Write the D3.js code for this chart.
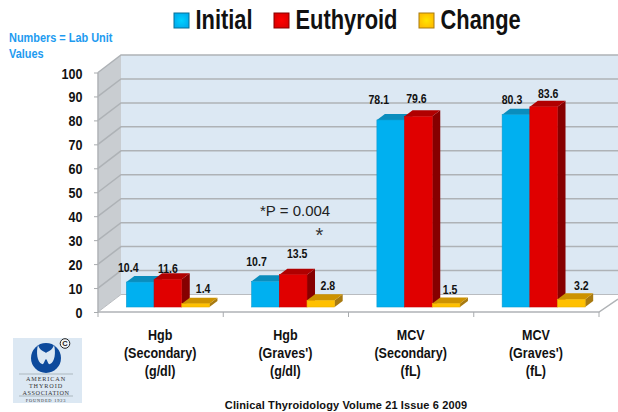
<!DOCTYPE html>
<html>
<head>
<meta charset="utf-8">
<script src="https://cdn.jsdelivr.net/npm/d3@7"></script>
<style>
    html, body { margin: 0; padding: 0; background: #fff; }
    svg { display: block; }
    text { font-family: "Liberation Sans", Arial, sans-serif; }
    .narrow { font-weight: bold; fill: #111; }
</style>
</head>
<body>
<svg id="vis" width="618" height="412"></svg>
<script>
'use strict';

var categories = [['Hgb', '(Secondary)', '(g/dl)'], ['Hgb', "(Graves')", '(g/dl)'], ['MCV', '(Secondary)', '(fL)'], ['MCV', "(Graves')", '(fL)']];
var seriesNames = ['Initial', 'Euthyroid', 'Change'];
var initialValues = [10.4, 10.7, 78.1, 80.3];
var euthyroidValues = [11.6, 13.5, 79.6, 83.6];
var changeValues = [1.4, 2.8, 1.5, 3.2];
var yTicks = [0, 10, 20, 30, 40, 50, 60, 70, 80, 90, 100];

(function () {
    var svg = d3.select('#vis');
    var allValues = [initialValues, euthyroidValues, changeValues];

    // colours per series: front, top, side
    var colors = [
        { front: '#00b0f0', top: '#0a8dbd', side: '#066f96', edge: '#0a9ad0' },
        { front: '#e00000', top: '#b00000', side: '#860000', edge: '#c80000' },
        { front: '#ffc000', top: '#cc9200', side: '#a87a10', edge: '#e8ae00' }
    ];

    // the original uses a condensed bold face; squeeze Liberation Sans to get it
    var squeeze = 0.81;
    function narrowText(parent, x, y, size, str) {
        return parent.append('text')
            .attr('class', 'narrow')
            .attr('transform', 'translate(' + x + ',' + y + ') scale(' + squeeze + ',1)')
            .style('font-size', size + 'px')
            .text(str);
    }

    // front plane of the box
    var left = 98, right = 599, bottom = 312, top = 72.5;
    var depthX = 23, depthY = 17.5;
    // the bars stand a little way into the floor
    var barOffX = 7.3, barOffY = 5;
    var barDepthX = 8, barDepthY = 6;

    var y = d3.scaleLinear().domain([0, 100]).range([bottom, top]);
    var xLabels = d3.scaleBand().domain(d3.range(categories.length)).range([left, right]);
    var x0 = d3.scaleBand().domain(d3.range(categories.length))
        .range([left + barOffX, right + barOffX]).paddingInner(0.337).paddingOuter(0.1685);
    var x1 = d3.scaleBand().domain(d3.range(seriesNames.length)).range([0, x0.bandwidth()]);

    // walls
    svg.append('path')
        .attr('d', 'M' + left + ',' + y(100) + 'L' + (left + depthX) + ',' + (y(100) - depthY) +
            'L' + (left + depthX) + ',' + (y(0) - depthY) + 'L' + left + ',' + y(0) + 'Z')
        .attr('fill', '#c9cdd1');
    svg.append('rect')
        .attr('x', left + depthX).attr('y', y(100) - depthY)
        .attr('width', 618 - left - depthX).attr('height', y(0) - y(100))
        .attr('fill', '#dce8f3');
    svg.append('path')
        .attr('d', 'M' + left + ',' + y(0) + 'L' + (left + depthX) + ',' + (y(0) - depthY) +
            'L618,' + (y(0) - depthY) + 'L618,' + (y(0) - depthY + 1) + 'L' + right + ',' + y(0) + 'Z')
        .attr('fill', '#fff');

    // gridlines on the back wall and the side wall
    svg.selectAll('.grid').data(yTicks).enter().append('path')
        .attr('class', 'grid')
        .attr('fill', 'none')
        .attr('stroke', function (d) { return d === 0 ? '#b9bcc0' : '#aeb2b6'; })
        .attr('stroke-width', function (d) { return d === 0 ? 1 : 1.5; })
        .attr('d', function (d) {
            return 'M' + left + ',' + y(d) + 'L' + (left + depthX) + ',' + (y(d) - depthY) + 'L618,' + (y(d) - depthY);
        });

    // floor front edge and right edge
    svg.append('path')
        .attr('d', 'M' + left + ',' + y(100) + 'L' + left + ',' + y(0) + 'L' + right + ',' + y(0) + 'L618,' + (y(0) - 13))
        .attr('fill', 'none').attr('stroke', '#b0b3b6').attr('stroke-width', 1.5);

    // y axis
    var yAxis = svg.append('g')
        .attr('transform', 'translate(' + left + ',0)')
        .call(d3.axisLeft(y).tickValues(yTicks).tickSize(4).tickPadding(11));
    yAxis.select('.domain').remove();
    yAxis.selectAll('line').attr('stroke', '#a8abae');
    yAxis.selectAll('text').remove();
    yAxis.selectAll('.tick').each(function (d) {
        narrowText(d3.select(this), -15.5, 5.5, 15.5, d).attr('text-anchor', 'end');
    });

    // x axis ticks at the category boundaries
    svg.selectAll('.xtick').data(d3.range(categories.length + 1)).enter().append('line')
        .attr('class', 'xtick')
        .attr('x1', function (d) { return left + d * xLabels.step(); })
        .attr('x2', function (d) { return left + d * xLabels.step(); })
        .attr('y1', y(0)).attr('y2', y(0) + 5)
        .attr('stroke', '#a8abae');

    // x labels
    categories.forEach(function (lines, i) {
        lines.forEach(function (t, j) {
            narrowText(svg, xLabels(i) + xLabels.bandwidth() / 2 - 0.5, 340 + j * 17.8, 15.5, t)
                .attr('text-anchor', 'middle');
        });
    });

    // bars, left to right so each one hides the side of the last
    var barBase = y(0) - barOffY;
    function barTop(v) { return y(v) - barOffY; }

    categories.forEach(function (c, g) {
        seriesNames.forEach(function (s, k) {
            var v = allValues[k][g];
            var bx = x0(g) + x1(k), bw = x1.bandwidth(), by = barTop(v);
            var col = colors[k];
            var bar = svg.append('g').attr('class', 'bar');
            bar.append('path')
                .attr('d', 'M' + (bx + bw) + ',' + by + 'L' + (bx + bw + barDepthX) + ',' + (by - barDepthY) +
                    'L' + (bx + bw + barDepthX) + ',' + (barBase - barDepthY) + 'L' + (bx + bw) + ',' + barBase + 'Z')
                .attr('fill', col.side);
            bar.append('path')
                .attr('d', 'M' + bx + ',' + by + 'L' + (bx + barDepthX) + ',' + (by - barDepthY) +
                    'L' + (bx + bw + barDepthX) + ',' + (by - barDepthY) + 'L' + (bx + bw) + ',' + by + 'Z')
                .attr('fill', col.top);
            bar.append('rect')
                .attr('x', bx).attr('y', by)
                .attr('width', bw).attr('height', barBase - by)
                .attr('fill', col.front)
                .attr('stroke', col.edge).attr('stroke-width', 0.6);
        });
    });

    // value labels were placed by hand in the original, so each has its own nudge
    var nudges = [
        [[-11, -15], [1, -11], [8.5, -15]],
        [[-8, -20], [5, -21], [8, -15]],
        [[-11, -20], [-1, -18], [5, -14]],
        [[-3, -15], [5.5, -13], [11, -14]]
    ];
    categories.forEach(function (c, g) {
        seriesNames.forEach(function (s, k) {
            var v = allValues[k][g];
            narrowText(svg,
                x0(g) + x1(k) + x1.bandwidth() / 2 + nudges[g][k][0] - 1,
                barTop(v) + nudges[g][k][1] + 4.5, 13, v.toFixed(1))
                .attr('text-anchor', 'middle');
        });
    });

    // legend
    var legendX = [174, 274, 419];
    var swatchDefs = svg.append('defs');
    seriesNames.forEach(function (s, k) {
        var grad = swatchDefs.append('radialGradient').attr('id', 'swatch' + k);
        grad.append('stop').attr('offset', '0%').attr('stop-color', d3.color(colors[k].front).brighter(0.5));
        grad.append('stop').attr('offset', '100%').attr('stop-color', colors[k].front);
        svg.append('rect')
            .attr('x', legendX[k]).attr('y', 13)
            .attr('width', 15).attr('height', 15)
            .attr('fill', 'url(#swatch' + k + ')')
            .attr('stroke', colors[k].side).attr('stroke-width', 1);
        narrowText(svg, legendX[k] + 21.5, 29, 27, s);
    });

    // annotations
    narrowText(svg, 9, 42, 13.5, 'Numbers = Lab Unit').style('fill', '#1e9bf0');
    narrowText(svg, 9, 58, 13.5, 'Values').style('fill', '#1e9bf0');
    svg.append('text').attr('x', 260).attr('y', 216)
        .attr('fill', '#222').style('font-size', '15px')
        .text('*P = 0.004');
    svg.append('text').attr('x', 319.5).attr('y', 242)
        .attr('text-anchor', 'middle')
        .attr('fill', '#333').style('font-size', '20px')
        .text('*');
    svg.append('text').attr('x', 346).attr('y', 409)
        .attr('text-anchor', 'middle')
        .attr('fill', '#111').style('font-size', '11px').style('font-weight', 'bold')
        .style('letter-spacing', '0.12px')
        .text('Clinical Thyroidology Volume 21 Issue 6 2009');

    // society logo
    var logo = svg.append('g');
    logo.append('rect').attr('x', 13).attr('y', 338).attr('width', 69).attr('height', 65).attr('fill', '#dce8f3');
    logo.append('circle').attr('cx', 46).attr('cy', 358).attr('r', 15).attr('fill', '#0d4a9c');
    logo.append('path')
        .attr('d', 'M38,345 C36,352 37,362 42,364 C44,365 44,361 46,359 C48,361 48,365 50,364 C55,362 56,352 54,345 C52,351 48,351 46,353 C44,351 40,351 38,345Z')
        .attr('fill', '#dce8f3');
    logo.append('line').attr('x1', 19).attr('x2', 73).attr('y1', 374).attr('y2', 374).attr('stroke', '#9aa3ab').attr('stroke-width', 0.7);
    logo.append('line').attr('x1', 19).attr('x2', 73).attr('y1', 396).attr('y2', 396).attr('stroke', '#9aa3ab').attr('stroke-width', 0.7);
    [['AMERICAN', 381, 6.2, 0.9], ['THYROID', 388, 6.2, 0.9], ['ASSOCIATION', 394.5, 6.2, 0.6], ['FOUNDED 1923', 402, 4.4, 0.8]].forEach(function (t) {
        logo.append('text')
            .attr('x', 46).attr('y', t[1])
            .attr('text-anchor', 'middle')
            .attr('fill', '#333')
            .style('font-family', '"Liberation Serif", serif')
            .style('font-size', t[2] + 'px')
            .style('letter-spacing', t[3] + 'px')
            .text(t[0]);
    });
    logo.append('circle').attr('cx', 65).attr('cy', 343.5).attr('r', 4.8)
        .attr('fill', '#f4f6f8').attr('stroke', '#222').attr('stroke-width', 1);
    logo.append('text').attr('x', 65).attr('y', 346.2)
        .attr('text-anchor', 'middle').attr('fill', '#222')
        .style('font-size', '7.5px').style('font-weight', 'bold')
        .text('C');
})();
</script>
</body>
</html>
